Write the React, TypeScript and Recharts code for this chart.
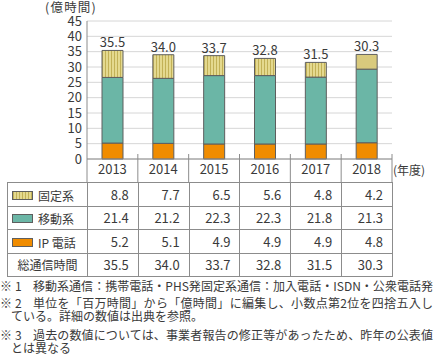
import React from 'react';
import { BarChart, Bar, XAxis, YAxis, CartesianGrid, LabelList, Cell } from 'recharts';

const years = ['2013', '2014', '2015', '2016', '2017', '2018'];

// table values
const fixedLine = [8.8, 7.7, 6.5, 5.6, 4.8, 4.2];
const mobile = [21.4, 21.2, 22.3, 22.3, 21.8, 21.3];
const ipPhone = [5.2, 5.1, 4.9, 4.9, 4.9, 4.8];
const totals = [35.5, 34.0, 33.7, 32.8, 31.5, 30.3];

// bar heights as drawn (the 2018 bar in the source is taller than its table values)
const fixedBar = [8.8, 7.7, 6.5, 5.6, 4.8, 4.8];
const mobileBar = [21.4, 21.2, 22.3, 22.3, 21.8, 24.0];
const ipBar = [5.2, 5.1, 4.9, 4.9, 4.9, 5.3];

const yTicks = [0, 5, 10, 15, 20, 25, 30, 35, 40, 45];

const FONT = "'Noto Sans CJK JP', 'Noto Sans', sans-serif";
const TEXT = '#3a3a3a';
const LINE = '#8c8c8c';
const ORANGE = '#f08c00';
const GREEN = '#6bb6a6';
const HATCH_CSS = 'repeating-linear-gradient(90deg, #c2b157 0 1px, #e4d98f 1px 3px)';

const data = years.map((year, i) => ({
  year,
  fixed: fixedBar[i],
  mobile: mobileBar[i],
  ip: ipBar[i],
  total: totals[i].toFixed(1),
}));

const YearTick = (props: any) => {
  const { x, y, payload, index } = props;
  const half = payload && payload.offset ? payload.offset : 25.4;
  return (
    <g>
      <text x={x} y={y} dy="0.71em" textAnchor="middle" fill={TEXT} fontSize={13} fontFamily={FONT}>
        {payload.value}
      </text>
      <line x1={x + half} x2={x + half} y1={y - 11} y2={y + 17} stroke={LINE} />
      {index === 0 && <line x1={x - half} x2={x - half} y1={y - 6} y2={y + 17} stroke={LINE} />}
    </g>
  );
};

const rows = [
  { label: '固定系', swatch: HATCH_CSS, values: fixedLine },
  { label: '移動系', swatch: GREEN, values: mobile },
  { label: 'IP 電話', swatch: ORANGE, values: ipPhone },
];

const cell: React.CSSProperties = {
  border: `1px solid ${LINE}`,
  padding: '0 9px 0 0',
  textAlign: 'right',
  fontSize: 13,
  lineHeight: '13px',
  color: TEXT,
  whiteSpace: 'nowrap',
};

const notes = [
  { top: 280, num: '1', lines: ['移動系通信：携帯電話・PHS発固定系通信：加入電話・ISDN・公衆電話発'] },
  { top: 297, num: '2', lines: ['単位を「百万時間」から「億時間」に編集し、小数点第2位を四捨五入し', 'ている。詳細の数値は出典を参照。'] },
  { top: 329, num: '3', lines: ['過去の数値については、事業者報告の修正等があったため、昨年の公表値', 'とは異なる'] },
];

const App: React.FC = () => {
  return (
    <div
      style={{
        position: 'absolute',
        left: 0,
        top: 0,
        width: 435,
        height: 360,
        background: '#fff',
        fontFamily: FONT,
        color: TEXT,
        overflow: 'hidden',
      }}
    >
      <div style={{ position: 'absolute', left: 45, top: 1, fontSize: 12.5, lineHeight: '12px', letterSpacing: 1.2 }}>(億時間)</div>
      <div style={{ position: 'absolute', left: 393, top: 163, fontSize: 12, lineHeight: '14px' }}>(年度)</div>

      <div style={{ position: 'absolute', left: 0, top: 0 }}>
        <BarChart width={435} height={182} data={data} margin={{ top: 21, right: 43, left: 0, bottom: 0 }} barSize={21}>
          <defs>
            <pattern id="hatch" width={3} height={10} patternUnits="userSpaceOnUse">
              <rect width={3} height={10} fill="#e4d98f" />
              <line x1={0.5} x2={0.5} y1={0} y2={10} stroke="#c2b157" strokeWidth={1} />
            </pattern>
          </defs>
          <CartesianGrid vertical={false} stroke="#d6d6d6" />
          <XAxis
            dataKey="year"
            height={23}
            interval={0}
            tickLine={false}
            tickSize={4}
            axisLine={{ stroke: LINE }}
            tick={<YearTick />}
          />
          <YAxis
            width={87}
            domain={[0, 45]}
            ticks={yTicks}
            interval={0}
            tickLine={false}
            tickSize={3}
            tickMargin={2}
            axisLine={{ stroke: LINE }}
            tick={{ fill: TEXT, fontSize: 13, fontFamily: FONT }}
          />
          <Bar dataKey="ip" stackId="a" fill={ORANGE} stroke="#5e5e5e" isAnimationActive={false} />
          <Bar dataKey="mobile" stackId="a" fill={GREEN} stroke="#5e5e5e" isAnimationActive={false} />
          <Bar dataKey="fixed" stackId="a" fill="url(#hatch)" stroke="#5e5e5e" isAnimationActive={false}>
            {data.map((d, i) => (
              <Cell key={d.year} fill={i === data.length - 1 ? '#d9ca7d' : 'url(#hatch)'} />
            ))}
            <LabelList dataKey="total" position="top" offset={3} fill={TEXT} fontSize={13} fontFamily={FONT} />
          </Bar>
        </BarChart>
      </div>

      <table
        style={{
          position: 'absolute',
          left: 7,
          top: 182,
          width: 385,
          borderCollapse: 'collapse',
          tableLayout: 'fixed',
        }}
      >
        <colgroup>
          <col style={{ width: 80 }} />
          {years.map((y) => (
            <col key={y} style={{ width: 50.83 }} />
          ))}
        </colgroup>
        <tbody>
          {rows.map((r) => (
            <tr key={r.label} style={{ height: 23.5 }}>
              <td style={{ ...cell, textAlign: 'left', padding: '0 0 0 4px', fontSize: 12 }}>
                <span
                  style={{
                    display: 'inline-block',
                    width: 19,
                    height: 7,
                    border: '1px solid #5e5e5e',
                    background: r.swatch,
                    verticalAlign: 'middle',
                    marginRight: 5,
                  }}
                />
                <span style={{ verticalAlign: 'middle' }}>{r.label}</span>
              </td>
              {r.values.map((v, i) => (
                <td key={i} style={cell}>
                  {v.toFixed(1)}
                </td>
              ))}
            </tr>
          ))}
          <tr style={{ height: 23.5 }}>
            <td style={{ ...cell, textAlign: 'center', padding: 0, fontSize: 12 }}>総通信時間</td>
            {totals.map((v, i) => (
              <td key={i} style={cell}>
                {v.toFixed(1)}
              </td>
            ))}
          </tr>
        </tbody>
      </table>

      {notes.map((n) => (
        <div key={n.num} style={{ position: 'absolute', left: 0, top: n.top, width: 435, fontSize: 12, lineHeight: '12.5px' }}>
          <div style={{ position: 'relative', height: 12.5, whiteSpace: 'nowrap' }}>
            <span>※</span>
            <span style={{ marginLeft: 3 }}>{n.num}</span>
            <div
              style={{
                position: 'absolute',
                left: 33,
                top: 0,
                width: 400,
                whiteSpace: 'normal',
                textAlign: 'justify',
                textAlignLast: 'justify',
              }}
            >
              {n.lines[0]}
            </div>
          </div>
          {n.lines.slice(1).map((l) => (
            <div key={l} style={{ paddingLeft: 11, whiteSpace: 'nowrap' }}>
              {l}
            </div>
          ))}
        </div>
      ))}
    </div>
  );
};

export default App;
